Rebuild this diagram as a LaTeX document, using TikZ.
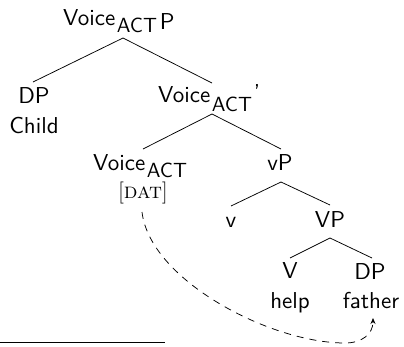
\documentclass[tikz,border=0pt]{standalone}
\usepackage{fontspec}
\setsansfont{lmsans10-regular.otf}
\usetikzlibrary{arrows.meta}
% lowered subscript label
\newcommand{\subact}[1]{\raisebox{-#1}{\fontsize{20.5}{21}\selectfont ACT}}
\begin{document}
\begin{tikzpicture}[x=1pt,y=-1pt,
  lbl/.style={inner sep=0pt, font=\fontsize{23}{26}\sffamily},
  feat/.style={inner sep=0pt, font=\fontsize{22}{24}\rmfamily},
  branch/.style={line width=0.75pt},
  link/.style={line width=0.75pt, dash pattern=on 7pt off 6pt,
    -{Stealth[length=6pt,width=5pt]}}]
\useasboundingbox (0,0) rectangle (404,346);

% labels
\node[lbl, anchor=base west] (root) at (63,25)
  {Voice\kern1.5pt\subact{7pt}\kern3pt\raisebox{-4pt}{P}};
\node[lbl, anchor=base] (dp1) at (34,103) {DP};
\node[lbl, anchor=base] (child) at (34,133) {Child};
\node[lbl, anchor=base west] (vbar) at (158,102)
  {Voice\kern1.5pt\subact{9pt}\kern2pt\raisebox{2pt}{'}};
\node[lbl, anchor=base west] (vlow) at (93,170)
  {Voice\kern1.5pt\subact{7pt}};
\node[feat, anchor=base] (dat) at (143,198) {[\textsc{dat}]};
\node[lbl, anchor=base] (vp1) at (280,170) {vP};
\node[lbl, anchor=base] (vsm) at (231,227) {v};
\node[lbl, anchor=base] (VP) at (330,227) {VP};
\node[lbl, anchor=base] (V) at (290,278) {V};
\node[lbl, anchor=base] (dp2) at (370,279) {DP};
\node[lbl, anchor=base] (help) at (290,308) {help};
\node[lbl, anchor=base] (father) at (371,308) {father};

% branch points
\coordinate (root-b) at (123,38);
\coordinate (dp1-t) at (33,82);
\coordinate (vbar-t) at (212,83);
\coordinate (vbar-b) at (212,114);
\coordinate (vlow-t) at (143,149);
\coordinate (vp1-t) at (281,149);
\coordinate (vp1-b) at (281,182);
\coordinate (vsm-t) at (231,206);
\coordinate (VP-t) at (330,205);
\coordinate (VP-b) at (330,238);
\coordinate (V-t) at (290,258);
\coordinate (dp2-t) at (372,258);

\draw[branch] (dp1-t) -- (root-b) -- (vbar-t);
\draw[branch] (vlow-t) -- (vbar-b) -- (vp1-t);
\draw[branch] (vsm-t) -- (vp1-b) -- (VP-t);
\draw[branch] (V-t) -- (VP-b) -- (dp2-t);

% dependency from the feature to the object
\coordinate (link-s) at (142,212);
\coordinate (link-e) at (373,318);
\draw[link] (link-s) .. controls (150,280) and (270,343) .. (345,343)
  .. controls (362,343) and (373,334) .. (link-e);

% rule at the foot
\coordinate (rule-l) at (0,342);
\coordinate (rule-r) at (165,342);
\draw[line width=0.75pt] (rule-l) -- (rule-r);
\end{tikzpicture}
\end{document}
